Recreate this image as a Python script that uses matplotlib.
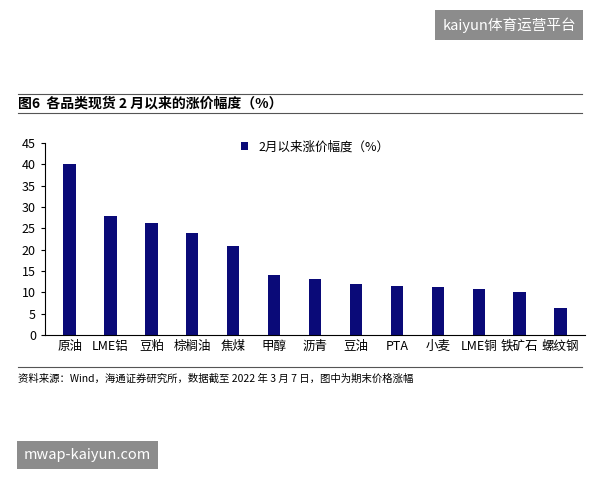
import matplotlib
matplotlib.use("Agg")
import matplotlib.pyplot as plt

plt.rcParams['font.family'] = ['Noto Sans CJK SC', 'DejaVu Sans']

categories = ['原油', 'LME铝', '豆粕', '棕榈油', '焦煤', '甲醇', '沥青', '豆油', 'PTA', '小麦', 'LME铜', '铁矿石', '螺纹钢']
values = [40.0, 28.0, 26.3, 24.0, 20.9, 14.1, 13.2, 11.9, 11.6, 11.2, 10.8, 10.0, 6.3]
series_name = '2月以来涨价幅度（%）'

fig = plt.figure(figsize=(6, 4.8), dpi=100)
ax = fig.add_axes([0.075, 0.302, 0.9, 0.4])
ax.bar(range(len(categories)), values, width=0.3, color='#0a0a78', label=series_name)
ax.set_xticks(range(len(categories)))
ax.set_xticklabels(categories, fontsize=9)
ax.set_ylim(0, 45)
ax.set_yticks(range(0, 46, 5))
ax.tick_params(axis='y', labelsize=9, length=3)
ax.tick_params(axis='x', length=0)
ax.set_xlim(-0.6, len(categories) - 0.4)
for s in ['top', 'right']:
    ax.spines[s].set_visible(False)
ax.legend(loc='upper center', bbox_to_anchor=(0.5, 1.07), frameon=False, fontsize=9,
          handlelength=0.6, handleheight=0.6)

fig.text(0.03, 0.775, '图6  各品类现货 2 月以来的涨价幅度（%）', fontsize=10, fontweight='bold')
fig.add_artist(plt.Line2D([0.03, 0.97], [0.805, 0.805], color='#555555', lw=0.8))
fig.add_artist(plt.Line2D([0.03, 0.97], [0.765, 0.765], color='#555555', lw=0.8))
fig.add_artist(plt.Line2D([0.03, 0.97], [0.235, 0.235], color='#555555', lw=0.8))
fig.text(0.03, 0.205, '资料来源：Wind，海通证券研究所，数据截至 2022 年 3 月 7 日，图中为期末价格涨幅', fontsize=7.5)

fig.text(0.96, 0.948, 'kaiyun体育运营平台', fontsize=10.5, color='white', ha='right', va='center',
         bbox=dict(facecolor='#8c8c8c', edgecolor='none', pad=5))
fig.text(0.04, 0.052, 'mwap-kaiyun.com', fontsize=10.5, color='white', ha='left', va='center',
         bbox=dict(facecolor='#8c8c8c', edgecolor='none', pad=5))

fig.savefig('out.png', dpi=100)
